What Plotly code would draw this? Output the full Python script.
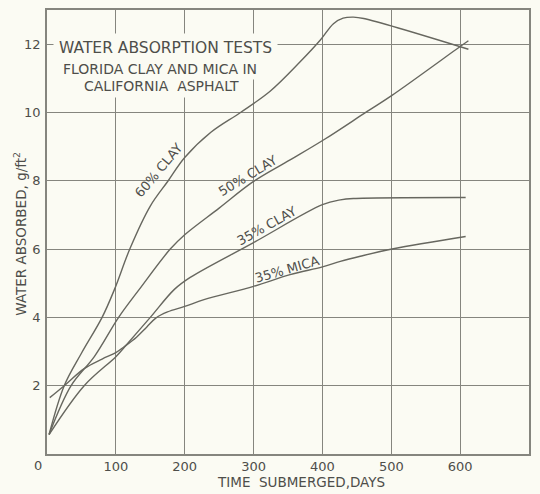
import plotly.graph_objects as go

# Water absorbed (g/ft^2) vs. days submerged, one list pair per mixture
clay60_days = [3, 25, 50, 80, 98, 121, 150, 176, 200, 238, 281, 324, 368, 397, 416, 430, 445, 460, 612]
clay60_vals = [0.57, 2.0, 2.95, 4.0, 4.82, 6.04, 7.26, 8.0, 8.68, 9.42, 10.0, 10.62, 11.49, 12.12, 12.6, 12.76, 12.79, 12.75, 11.85]

clay50_days = [3, 35, 69, 104, 134, 179, 200, 250, 300, 353, 402, 465, 501, 600, 612]
clay50_vals = [0.57, 2.0, 2.86, 4.0, 4.82, 6.0, 6.42, 7.2, 7.98, 8.61, 9.2, 10.03, 10.5, 11.93, 12.1]

clay35_days = [3, 54, 100, 112, 150, 185, 208, 300, 400, 426, 445, 608]
clay35_vals = [0.57, 2.0, 2.85, 3.12, 4.0, 4.82, 5.17, 6.19, 7.3, 7.44, 7.48, 7.51]

mica35_days = [4, 25, 54, 80, 100, 112, 130, 145, 158, 175, 200, 228, 300, 353, 400, 426, 455, 503, 608]
mica35_vals = [1.65, 2.0, 2.5, 2.78, 2.97, 3.14, 3.42, 3.72, 3.98, 4.16, 4.32, 4.52, 4.91, 5.25, 5.48, 5.64, 5.79, 6.01, 6.37]

x_ticks = [100, 200, 300, 400, 500, 600]
y_ticks = [2, 4, 6, 8, 10, 12]

title_lines = ["WATER ABSORPTION TESTS", "FLORIDA CLAY AND MICA IN", "CALIFORNIA  ASPHALT"]
curve_labels = ["60% CLAY", "50% CLAY", "35% CLAY", "35% MICA"]

PAPER = "#fbfbf3"
INK = "#4e4e4a"
LINE = "#67675f"
GRID = "#85857e"
FONT = "DejaVu Sans"

fig = go.Figure()
for days, vals in [(clay60_days, clay60_vals), (clay50_days, clay50_vals),
                   (clay35_days, clay35_vals), (mica35_days, mica35_vals)]:
    fig.add_trace(go.Scatter(
        x=days, y=vals, mode="lines",
        line=dict(color=LINE, width=1.4, shape="spline", smoothing=1.0),
        hoverinfo="skip", showlegend=False,
    ))

axis_common = dict(
    showgrid=True, gridcolor=GRID, gridwidth=1.2,
    showline=True, mirror=True, linecolor=GRID, linewidth=1.5,
    ticks="", zeroline=False,
    tickfont=dict(family=FONT, size=13, color=INK),
)

fig.update_layout(
    width=540, height=494,
    margin=dict(l=47, r=11, t=8, b=40),
    paper_bgcolor=PAPER, plot_bgcolor=PAPER,
    xaxis=dict(range=[0, 700], tickvals=x_ticks, ticktext=[str(v) for v in x_ticks], **axis_common),
    yaxis=dict(range=[0, 13], tickvals=y_ticks, ticktext=[str(v) for v in y_ticks], ticklabelstandoff=2, **axis_common),
    font=dict(family=FONT, color=INK),
)

annotations = []

# Title block, each line masking the grid behind it
title_pos = [(172, 11.89, 15.5, 5), (164, 11.27, 14, 2), (166, 10.78, 14, 3)]
for text, (x, y, size, pad) in zip(title_lines, title_pos):
    annotations.append(dict(x=x, y=y, xref="x", yref="y", text=text, showarrow=False,
                            font=dict(family=FONT, size=size, color=INK),
                            bgcolor=PAPER, borderpad=pad))

# Curve labels set along each line
label_pos = [(162, 8.3, -50), (292, 8.15, -31), (320, 6.68, -29), (348, 5.4, -16)]
for text, (x, y, ang) in zip(curve_labels, label_pos):
    annotations.append(dict(x=x, y=y, xref="x", yref="y", text=text, showarrow=False,
                            textangle=ang, font=dict(family=FONT, size=13, color=INK)))

# Axis titles and the shared origin label
annotations.append(dict(x=369, y=-0.063, xref="x", yref="paper", text="TIME  SUBMERGED,DAYS",
                        xanchor="center", yanchor="middle",
                        showarrow=False, font=dict(family=FONT, size=13.5, color=INK)))
annotations.append(dict(x=-0.056, y=6.45, xref="paper", yref="y", text="WATER ABSORBED, g/ft<sup>2</sup>",
                        xanchor="center", yanchor="middle",
                        showarrow=False, textangle=-90, font=dict(family=FONT, size=13.5, color=INK)))
annotations.append(dict(x=0, y=0, xref="x", yref="y", text="0", showarrow=False,
                        xshift=-9, yshift=-11, font=dict(family=FONT, size=13, color=INK)))

fig.update_layout(annotations=annotations)
fig.write_html("out.html")
